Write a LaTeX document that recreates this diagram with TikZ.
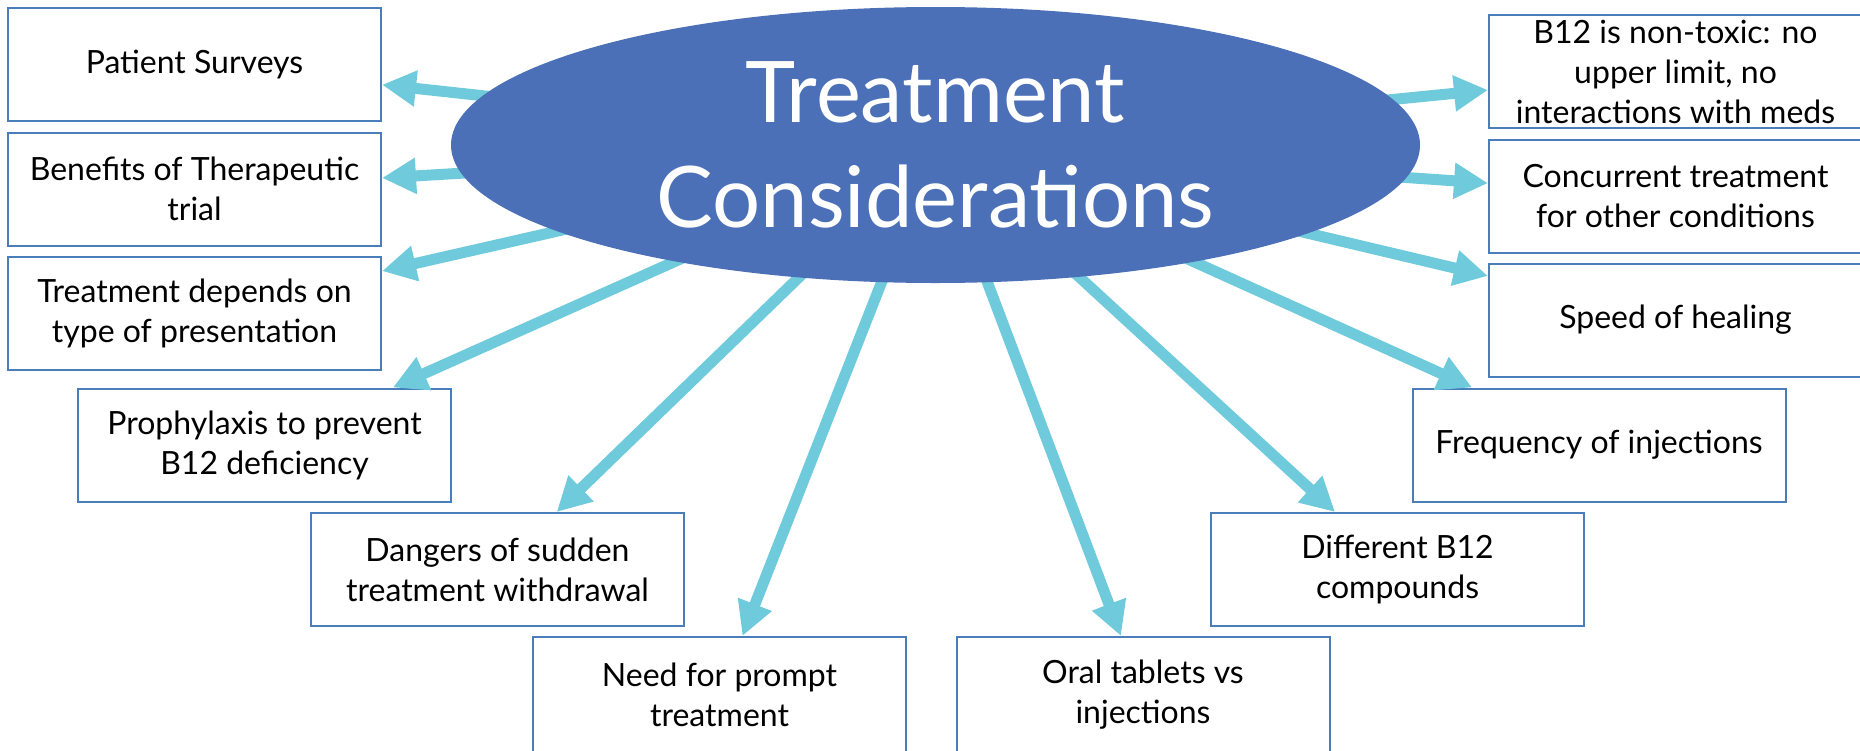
\documentclass[tikz,border=0pt]{standalone}
\usepackage{fontspec}
\setmainfont{Lato}
\usetikzlibrary{arrows.meta,shapes.geometric}
\definecolor{ellblue}{RGB}{75,112,183}
\definecolor{arrcyan}{RGB}{111,203,220}
\definecolor{boxblue}{RGB}{74,126,187}
\begin{document}
\begin{tikzpicture}[x=1pt,y=-1pt,
  box/.style={draw=boxblue,line width=2pt,fill=white,minimum width=373pt,minimum height=113pt,inner sep=0pt,align=center,font=\fontsize{32}{40}\selectfont,text=black},
  conn/.style={draw=arrcyan,line width=11pt,-{Triangle[length=34pt,width=34pt]}},
  hub/.style={ellipse,fill=ellblue,minimum width=969pt,minimum height=276pt,inner sep=0pt,text=white,align=center,font=\fontsize{85}{105}\selectfont}]
\useasboundingbox (0,0) rectangle (1860,750);
% boxes
\node[box] (ps)  at (194.5,64.5)  {Patient Surveys};
\node[box] (bt)  at (194.5,189)   {Benefits of Therapeutic\\trial};
\node[box] (td)  at (194.5,313.5) {Treatment depends on\\type of presentation};
\node[box] (pr)  at (264.5,445)   {Prophylaxis to prevent\\B12 deficiency};
\node[box] (dg)  at (497.5,569.5) {Dangers of sudden\\treatment withdrawal};
\node[box,minimum height=115pt] (np)  at (719.5,694.5) {Need for prompt\\treatment};
\node[box,minimum height=115pt] (ot)  at (1143,694.5)  {Oral tablets vs\\injections};
\node[box] (df)  at (1397.5,569.5) {Different B12\\compounds};
\node[box] (fq)  at (1599,445)    {Frequency of injections};
\node[box] (b12) at (1675.5,71.5) {B12 is non-toxic: no\\upper limit, no\\interactions with meds};
\node[box] (cc)  at (1675.5,196)  {Concurrent treatment\\for other conditions};
\node[box] (sp)  at (1675.5,320)  {Speed of healing};
% connectors
\coordinate (c) at (935.5,145);
\foreach \t in {ps,bt,td,pr,dg,np,ot,df,fq,b12,cc,sp}
  \draw[conn] (c) -- (\t);
% hub
\node[hub] (hubnode) at (c) {Treatment\\Considerations};
\end{tikzpicture}
\end{document}
